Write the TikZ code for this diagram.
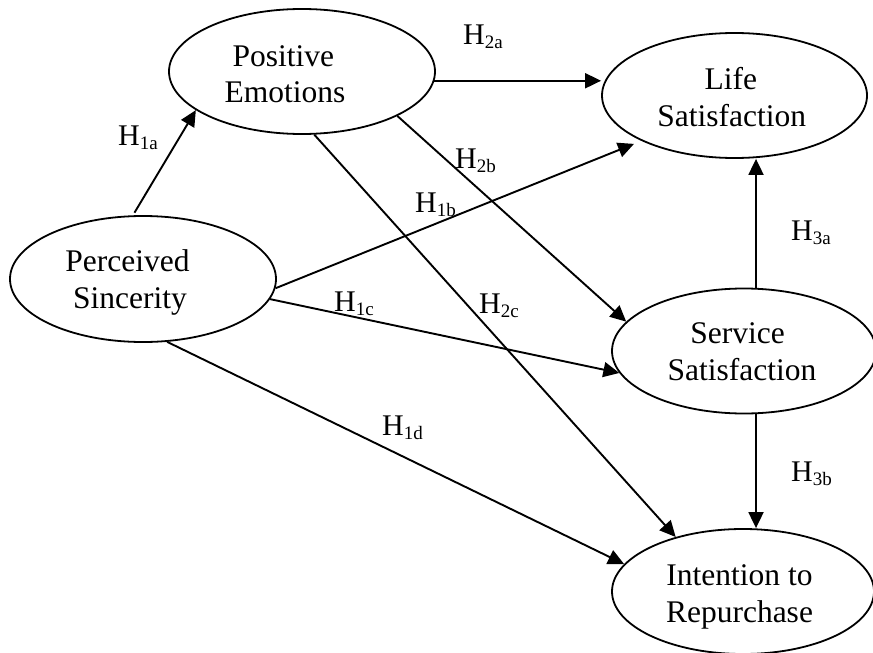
\documentclass[tikz,border=0pt]{standalone}
\usepackage{fontspec}
\setmainfont{Liberation Serif}
\usetikzlibrary{arrows.meta,shapes.geometric}
\newcommand\hyp[1]{H\raisebox{-4pt}{\fontsize{19}{19}\selectfont #1}}
\begin{document}
\begin{tikzpicture}[x=1pt,y=-1pt,
  ell/.style={draw,ellipse,line width=1.8pt,inner sep=0pt},
  txt/.style={anchor=base,inner sep=0pt,font=\fontsize{31.5}{36}\selectfont},
  hlab/.style={anchor=base west,inner sep=0pt,font=\fontsize{30}{30}\selectfont},
  arr/.style={line width=1.9pt,-{Triangle[length=16pt,width=15pt]}}]
\useasboundingbox (0,0) rectangle (873,653);
% ellipses
\node[ell,minimum width=266pt,minimum height=125pt] (pe) at (302,71.5) {};
\node[ell,minimum width=265pt,minimum height=125pt] (ls) at (734.5,95.5) {};
\node[ell,minimum width=266pt,minimum height=126pt] (ps) at (143,279) {};
\node[ell,minimum width=264pt,minimum height=125pt] (ss) at (744,351) {};
\node[ell,minimum width=262pt,minimum height=125pt] (ir) at (743,591.5) {};
% texts
\node[txt] (peA) at (283.3,66) {Positive};
\node[txt] (peB) at (285,102.7) {Emotions};
\node[txt] (lsA) at (730.8,89.3) {Life};
\node[txt] (lsB) at (731.7,126) {Satisfaction};
\node[txt] (psA) at (127.5,271.7) {Perceived};
\node[txt] (psB) at (130,308.3) {Sincerity};
\node[txt] (ssA) at (737.5,343) {Service};
\node[txt] (ssB) at (742,380) {Satisfaction};
\node[txt] (irA) at (739.5,585) {Intention to};
\node[txt] (irB) at (739.5,622) {Repurchase};
% connectors
\draw[arr,shorten <=3pt] (ps.99) -- (pe.200);
\draw[arr] (pe.356) -- (ls.west |- pe.356);
\draw[arr] (pe.335) -- (ss.166);
\draw[arr] (pe.281) -- (ir.141);
\draw[arr,shorten >=8pt] (ps.356) -- (ls.206);
\draw[arr] (ps.351) -- (ss.190);
\draw[arr] (ps.291) -- (ir.167);
\draw[arr] ([xshift=12pt]ss.north) -- ([xshift=12pt]ss.north |- ls.south);
\draw[arr] ([xshift=12pt]ss.south) -- ([xshift=12pt]ss.south |- ir.north);
% labels
\node[hlab] (h1a) at (118,145) {\hyp{1a}};
\node[hlab] (h2a) at (463,44) {\hyp{2a}};
\node[hlab] (h2b) at (455,168) {\hyp{2b}};
\node[hlab] (h1b) at (415,212) {\hyp{1b}};
\node[hlab] (h1c) at (334,311.7) {\hyp{1c}};
\node[hlab] (h2c) at (479,313) {\hyp{2c}};
\node[hlab] (h3a) at (791,240.7) {\hyp{3a}};
\node[hlab] (h3b) at (791,481.7) {\hyp{3b}};
\node[hlab] (h1d) at (382,435) {\hyp{1d}};
\end{tikzpicture}
\end{document}
